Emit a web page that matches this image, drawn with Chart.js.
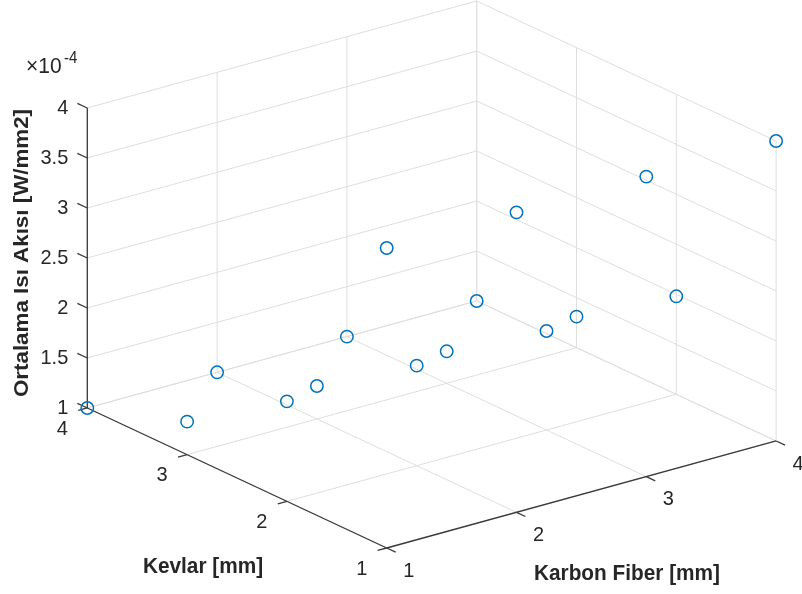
<!DOCTYPE html>
<html>
<head>
<meta charset="utf-8">
<script src="https://cdn.jsdelivr.net/npm/chart.js@4.4.1/dist/chart.umd.min.js"></script>
<style>
  html, body { margin: 0; padding: 0; background: #ffffff; }
  #wrap { width: 802px; height: 594px; }
</style>
</head>
<body>
<div id="wrap"><canvas id="c" width="802" height="594"></canvas></div>
<script>
// ---- data ----
const kevlarMM = [1, 2, 3, 4, 1, 2, 3, 4, 1, 2, 3, 4, 1, 2, 3, 4];
const karbonMM = [1, 1, 1, 1, 2, 2, 2, 2, 3, 3, 3, 3, 4, 4, 4, 4];
const fluxE4   = [4.0, 2.0, 1.33, 1.0, 4.0, 2.0, 1.33, 1.0, 4.0, 1.99, 1.32, 1.0, 4.0, 1.98, 1.31, 1.0]; // x 1e-4 W/mm2
const kevlarTicks = [1, 2, 3, 4];
const karbonTicks = [1, 2, 3, 4];
const fluxTicks = [1, 1.5, 2, 2.5, 3, 3.5, 4];
const fluxTickLabels = ['1', '1.5', '2', '2.5', '3', '3.5', '4'];
const kevlarTickLabels = ['1', '2', '3', '4'];
const karbonTickLabels = ['1', '2', '3', '4'];
const labelKevlar = 'Kevlar [mm]';
const labelKarbon = 'Karbon Fiber [mm]';
const labelFlux = 'Ortalama Isı Akısı [W/mm2]';
const kevLim = [1, 4], karLim = [1, 4], fluxLim = [1, 4];

// ---- 3D -> 2D view projection (view geometry, not data) ----
const VK = [-99.8, 46.67];   // per mm Kevlar
const VC = [129.8, 35.67];   // per mm Karbon
const VZ = [0, 100];         // per 1e-4 flux
function proj(k, c, z) {
  return {
    x: (k - 1) * VK[0] + (c - 1) * VC[0] + (z - 1) * VZ[0],
    y: (k - 1) * VK[1] + (c - 1) * VC[1] + (z - 1) * VZ[1]
  };
}

const GRID = '#dedede';
const AXIS = '#3a3a3a';
const TEXT = '#262626';
const BLUE = '#0072BD';

const datasets = [];
// scatter points
datasets.push({
  label: 'points',
  data: kevlarMM.map((k, i) => proj(k, karbonMM[i], fluxE4[i])),
  pointRadius: 6.2,
  pointHoverRadius: 6.2,
  pointBorderWidth: 1.5,
  pointBorderColor: BLUE,
  pointBackgroundColor: 'rgba(0,0,0,0)',
  showLine: false,
  order: 0
});
function seg(a, b, color, width, order) {
  datasets.push({
    data: [a, b], showLine: true, pointRadius: 0, pointHoverRadius: 0,
    borderColor: color, borderWidth: width, order: order, fill: false
  });
}
// back wall Kevlar = max
fluxTicks.forEach(z => seg(proj(kevLim[1], karLim[0], z), proj(kevLim[1], karLim[1], z), GRID, 1, 3));
karbonTicks.forEach(c => seg(proj(kevLim[1], c, fluxLim[0]), proj(kevLim[1], c, fluxLim[1]), GRID, 1, 3));
// back wall Karbon = max
fluxTicks.forEach(z => seg(proj(kevLim[0], karLim[1], z), proj(kevLim[1], karLim[1], z), GRID, 1, 3));
kevlarTicks.forEach(k => seg(proj(k, karLim[1], fluxLim[0]), proj(k, karLim[1], fluxLim[1]), GRID, 1, 3));
// floor
kevlarTicks.forEach(k => seg(proj(k, karLim[0], fluxLim[0]), proj(k, karLim[1], fluxLim[0]), GRID, 1, 3));
karbonTicks.forEach(c => seg(proj(kevLim[0], c, fluxLim[0]), proj(kevLim[1], c, fluxLim[0]), GRID, 1, 3));
// axis lines
seg(proj(kevLim[1], karLim[0], fluxLim[0]), proj(kevLim[1], karLim[0], fluxLim[1]), AXIS, 1.3, 1);
seg(proj(kevLim[0], karLim[0], fluxLim[0]), proj(kevLim[1], karLim[0], fluxLim[0]), AXIS, 1.3, 1);
seg(proj(kevLim[0], karLim[0], fluxLim[0]), proj(kevLim[0], karLim[1], fluxLim[0]), AXIS, 1.3, 1);
// tick marks (short, in data space)
const tk = 0.1;
fluxTicks.forEach(z => seg(proj(kevLim[1], karLim[0], z), proj(kevLim[1] + tk, karLim[0], z), AXIS, 1.3, 1));
kevlarTicks.forEach(k => seg(proj(k, karLim[0], fluxLim[0]), proj(k, karLim[0] - 0.07, fluxLim[0]), AXIS, 1.3, 1));
karbonTicks.forEach(c => seg(proj(kevLim[0], c, fluxLim[0]), proj(kevLim[0] - 0.09, c, fluxLim[0]), AXIS, 1.3, 1));

function stretchedText(ctx, txt, x, y, font, align, base, sy, rot) {
  ctx.save();
  ctx.translate(x, y);
  if (rot) ctx.rotate(rot);
  ctx.scale(rot ? sy : 1, rot ? 1 : sy);
  ctx.font = font;
  ctx.textAlign = align;
  ctx.textBaseline = base;
  ctx.fillStyle = TEXT;
  ctx.fillText(txt, 0, 0);
  ctx.restore();
}

const labelsPlugin = {
  id: 'labels3d',
  afterDatasetsDraw(chart) {
    const ctx = chart.ctx;
    const xs = chart.scales.x, ys = chart.scales.y;
    const px = p => ({ x: xs.getPixelForValue(p.x), y: ys.getPixelForValue(p.y) });
    const tickFont = '20px "Liberation Sans", Arial, sans-serif';
    const boldFont = 'bold 20.8px "Liberation Sans", Arial, sans-serif';
    // flux ticks
    fluxTicks.forEach((z, i) => {
      const p = px(proj(kevLim[1], karLim[0], z));
      stretchedText(ctx, fluxTickLabels[i], p.x - 19, p.y, tickFont, 'right', 'middle', 1.04);
    });
    kevlarTicks.forEach((k, i) => {
      const p = px(proj(k, karLim[0], fluxLim[0]));
      stretchedText(ctx, kevlarTickLabels[i], p.x - 25, p.y + 21, tickFont, 'center', 'middle', 1.04);
    });
    karbonTicks.forEach((c, i) => {
      const p = px(proj(kevLim[0], c, fluxLim[0]));
      stretchedText(ctx, karbonTickLabels[i], p.x + 22, p.y + 23, tickFont, 'center', 'middle', 1.04);
    });
    // exponent
    stretchedText(ctx, '\u00d710', 26, 73, '21px "Liberation Sans", Arial, sans-serif', 'left', 'alphabetic', 1.04);
    stretchedText(ctx, '-4', 64, 63, '15px "Liberation Sans", Arial, sans-serif', 'left', 'alphabetic', 1.04);
    // axis titles
    stretchedText(ctx, labelKevlar, 203, 567, boldFont, 'center', 'middle', 1.05);
    stretchedText(ctx, labelKarbon, 627, 574, boldFont, 'center', 'middle', 1.05);
    stretchedText(ctx, labelFlux, 22, 253, 'bold 20.5px "Liberation Sans", Arial, sans-serif', 'center', 'middle', 1.09, -Math.PI / 2);
  }
};

new Chart(document.getElementById('c'), {
  type: 'scatter',
  data: { datasets },
  options: {
    responsive: false,
    animation: false,
    devicePixelRatio: 1,
    layout: { padding: 0, autoPadding: false },
    plugins: { legend: { display: false }, tooltip: { enabled: false } },
    events: [],
    scales: {
      x: { type: 'linear', min: -386.7, max: 415.3, display: false },
      y: { type: 'linear', min: -46, max: 548, display: false }
    }
  },
  plugins: [labelsPlugin]
});
</script>
</body>
</html>
